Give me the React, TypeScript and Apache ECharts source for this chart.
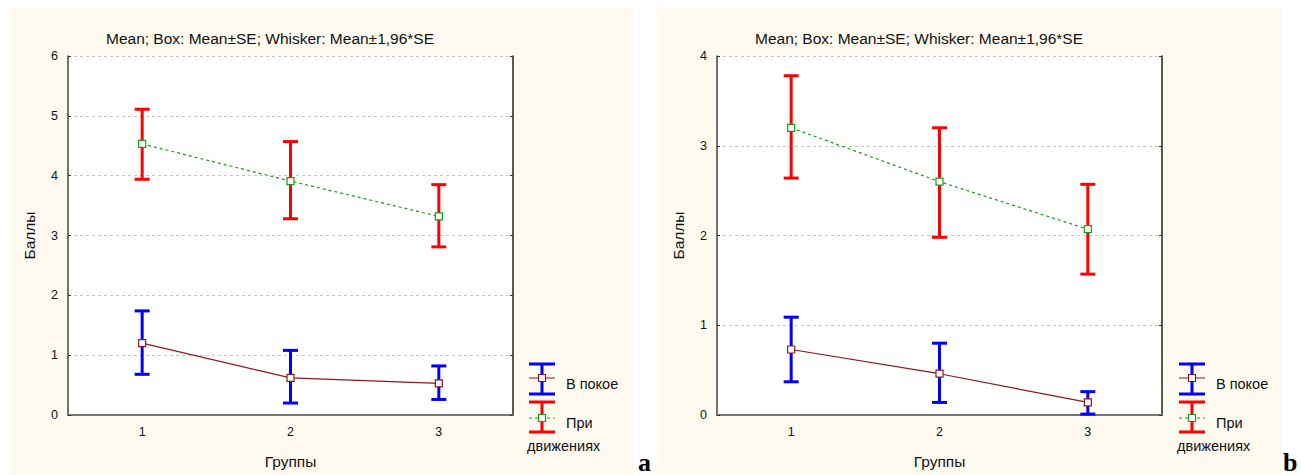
import React, { useEffect, useRef } from "react";
import * as echarts from "echarts";

const categories = ["1", "2", "3"];
const titleText = "Mean; Box: Mean±SE; Whisker: Mean±1,96*SE";
const yName = "Баллы";
const xName = "Группы";
const legendRest = "В покое";
const legendMove1 = "При";
const legendMove2 = "движениях";
const panelLetters = ["a", "b"];

// Panel a
const restMeanA = [1.2, 0.62, 0.53];
const restLowA = [0.68, 0.2, 0.26];
const restHighA = [1.74, 1.08, 0.82];
const moveMeanA = [4.53, 3.91, 3.32];
const moveLowA = [3.94, 3.28, 2.81];
const moveHighA = [5.11, 4.57, 3.85];
const yMaxA = 6;

// Panel b
const restMeanB = [0.73, 0.46, 0.14];
const restLowB = [0.37, 0.14, 0.01];
const restHighB = [1.09, 0.8, 0.26];
const moveMeanB = [3.2, 2.6, 2.07];
const moveLowB = [2.64, 1.98, 1.57];
const moveHighB = [3.78, 3.2, 2.57];
const yMaxB = 4;

const FONT = "Arial, 'Liberation Sans', sans-serif";
const CREAM = "#fefaf0";
const RED = "#ff0000";
const BLUE = "#0000ff";
const BROWN = "#8b1a1a";
const GREEN = "#1a9a1a";

function errorSeries(low: number[], high: number[], color: string, xi: number, yi: number) {
  return {
    type: "custom",
    xAxisIndex: xi,
    yAxisIndex: yi,
    z: 2,
    silent: true,
    encode: { x: 0, y: [1, 2] },
    data: categories.map((_, i) => [i, low[i], high[i]]),
    renderItem: (params: any, api: any) => {
      const x = api.value(0);
      const pLo = api.coord([x, api.value(1)]);
      const pHi = api.coord([x, api.value(2)]);
      const half = 7.5;
      const st = { stroke: color, lineWidth: 3 };
      return {
        type: "group",
        children: [
          { type: "line", shape: { x1: pLo[0], y1: pLo[1], x2: pHi[0], y2: pHi[1] }, style: st },
          { type: "line", shape: { x1: pLo[0] - half, y1: pLo[1], x2: pLo[0] + half, y2: pLo[1] }, style: st },
          { type: "line", shape: { x1: pHi[0] - half, y1: pHi[1], x2: pHi[0] + half, y2: pHi[1] }, style: st },
        ],
      };
    },
  };
}

function lineSeries(data: number[], color: string, dashed: boolean, xi: number, yi: number) {
  return {
    type: "line",
    xAxisIndex: xi,
    yAxisIndex: yi,
    z: 3,
    data,
    symbol: "rect",
    symbolSize: 7,
    itemStyle: { color: "#ffffff", borderColor: color, borderWidth: 1.2 },
    lineStyle: { color, width: 1.2, type: dashed ? [3, 3] : "solid" },
    silent: true,
  };
}

function legendGraphics(off: number) {
  const cx = 542 + off;
  const bar = (y1: number, y2: number, color: string) => [
    { type: "line", shape: { x1: cx, y1, x2: cx, y2 }, style: { stroke: color, lineWidth: 3 } },
    { type: "line", shape: { x1: cx - 13, y1, x2: cx + 13, y2: y1 }, style: { stroke: color, lineWidth: 3 } },
    { type: "line", shape: { x1: cx - 13, y1: y2, x2: cx + 13, y2 }, style: { stroke: color, lineWidth: 3 } },
  ];
  const sample = (y: number, color: string, dashed: boolean) => [
    { type: "line", shape: { x1: cx - 13, y1: y, x2: cx + 13, y2: y }, style: { stroke: color, lineWidth: 1, lineDash: dashed ? [3, 3] : null } },
    { type: "rect", shape: { x: cx - 3.5, y: y - 3.5, width: 7, height: 7 }, style: { fill: "#fff", stroke: color, lineWidth: 1.2 } },
  ];
  const txt = (t: string, x: number, y: number) => ({
    type: "text",
    x,
    y,
    style: { text: t, fill: "#111", font: `14.5px ${FONT}`, textAlign: "left", textVerticalAlign: "middle" },
  });
  return [
    ...bar(364, 394, BLUE),
    ...sample(378, BROWN, false),
    ...bar(402, 432, RED),
    ...sample(418, GREEN, true),
    txt(legendRest, 566 + off, 384),
    txt(legendMove1, 566 + off, 423),
    txt(legendMove2, 527 + off, 446),
  ];
}

function makeAxes(gi: number, yMax: number) {
  const axisName = { fontFamily: FONT, fontSize: 15.5, color: "#111" };
  const xs = [
    {
      type: "category",
      gridIndex: gi,
      data: categories,
      position: "bottom",
      boundaryGap: true,
      axisLine: { lineStyle: { color: "#777", width: 2 } },
      axisTick: { inside: true, alignWithLabel: true, length: 3, lineStyle: { color: "#333" } },
      axisLabel: { fontFamily: FONT, fontSize: 12.5, color: "#111", margin: 10 },
      name: xName,
      nameLocation: "middle",
      nameGap: 38,
      nameTextStyle: axisName,
    },
    {
      type: "category",
      gridIndex: gi,
      data: categories,
      position: "top",
      boundaryGap: true,
      axisLine: { lineStyle: { color: "#777", width: 2 } },
      axisTick: { inside: true, alignWithLabel: true, length: 3, lineStyle: { color: "#333" } },
      axisLabel: { show: false },
    },
  ];
  const ys = [
    {
      type: "value",
      gridIndex: gi,
      min: 0,
      max: yMax,
      interval: 1,
      position: "left",
      axisLine: { show: true, lineStyle: { color: "#444", width: 1.5 } },
      axisTick: { show: true, inside: true, length: 3, lineStyle: { color: "#333" } },
      axisLabel: { fontFamily: FONT, fontSize: 12.5, color: "#111", margin: 10 },
      splitLine: { show: true, lineStyle: { color: "#c4c4c4", width: 1, type: [3, 3] } },
      name: yName,
      nameLocation: "middle",
      nameGap: 31,
      nameTextStyle: axisName,
    },
    {
      type: "value",
      gridIndex: gi,
      min: 0,
      max: yMax,
      interval: 1,
      position: "right",
      axisLine: { show: true, lineStyle: { color: "#222", width: 1.5 } },
      axisTick: { show: true, inside: true, length: 3, lineStyle: { color: "#333" } },
      axisLabel: { show: false },
      splitLine: { show: false },
    },
  ];
  return { xs, ys };
}

export default function App() {
  const ref = useRef<HTMLDivElement>(null);
  useEffect(() => {
    if (!ref.current) return;
    const chart = echarts.init(ref.current, null, { renderer: "svg" });
    const a = makeAxes(0, yMaxA);
    const b = makeAxes(1, yMaxB);
    const titleEl = (x: number) => ({
      type: "text",
      x,
      y: 38,
      style: { text: titleText, fill: "#111", font: `15.5px ${FONT}`, textAlign: "center", textVerticalAlign: "middle" },
    });
    const letterEl = (t: string, x: number) => ({
      type: "text",
      x,
      y: 475,
      style: { text: t, fill: "#000", font: `bold 26px 'Liberation Serif', 'Times New Roman', serif`, textAlign: "left", textVerticalAlign: "bottom" },
    });
    chart.setOption({
      animation: false,
      backgroundColor: "#ffffff",
      grid: [
        { left: 68, top: 56, width: 445, height: 359, show: true, backgroundColor: "#ffffff", borderWidth: 0 },
        { left: 717, top: 56, width: 445, height: 359, show: true, backgroundColor: "#ffffff", borderWidth: 0 },
      ],
      xAxis: [...a.xs, ...b.xs],
      yAxis: [...a.ys, ...b.ys],
      graphic: [
        { type: "rect", z: -10, shape: { x: 9, y: 8, width: 624, height: 467 }, style: { fill: CREAM } },
        { type: "rect", z: -10, shape: { x: 657, y: 8, width: 625, height: 467 }, style: { fill: CREAM } },
        titleEl(270),
        titleEl(919),
        ...legendGraphics(0),
        ...legendGraphics(650),
        letterEl(panelLetters[0], 638),
        letterEl(panelLetters[1], 1283),
      ],
      series: [
        errorSeries(moveLowA, moveHighA, RED, 0, 0),
        errorSeries(restLowA, restHighA, BLUE, 0, 0),
        lineSeries(restMeanA, BROWN, false, 0, 0),
        lineSeries(moveMeanA, GREEN, true, 0, 0),
        errorSeries(moveLowB, moveHighB, RED, 2, 2),
        errorSeries(restLowB, restHighB, BLUE, 2, 2),
        lineSeries(restMeanB, BROWN, false, 2, 2),
        lineSeries(moveMeanB, GREEN, true, 2, 2),
      ],
    });
    return () => chart.dispose();
  }, []);
  return (
    <div
      ref={ref}
      style={{ position: "fixed", left: 0, top: 0, width: 1301, height: 475, background: "#fff" }}
    />
  );
}
